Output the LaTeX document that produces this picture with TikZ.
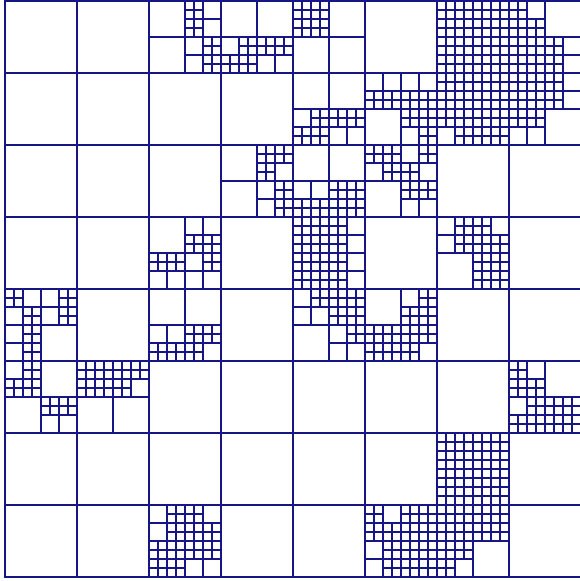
\documentclass[tikz,border=0pt]{standalone}
\definecolor{meshblue}{RGB}{22,22,135}
\begin{document}
\begin{tikzpicture}[x=9pt,y=-9pt,
  mesh/.style={draw=meshblue,line width=2.1pt,line cap=rect}]
\useasboundingbox ({-5/9},{-1/9}) rectangle ({575/9},{580/9});
\clip ({-5/9},{-1/9}) rectangle ({575/9},{580/9});
% coarse 8x8 grid
\foreach \i in {0,8,...,64}{
  \draw[mesh] (\i,0) -- (\i,64);
  \draw[mesh] (0,\i) -- (64,\i);
}
% level 1: split coarse cells
\foreach \x/\y in {16/0,24/0,32/0,48/0,56/0,
  32/8,40/8,48/8,56/8,
  24/16,32/16,40/16,
  16/24,32/24,48/24,
  0/32,16/32,32/32,40/32,
  0/40,8/40,56/40,
  48/48,
  16/56,40/56,48/56}
  \draw[mesh] (\x+4,\y) -- (\x+4,\y+8) (\x,\y+4) -- (\x+8,\y+4);
% level 2: split quadrants
\foreach \x/\y in {20/0,20/4,
  24/4,28/4,
  32/0,
  48/0,52/0,48/4,52/4,
  56/0,56/4,60/4,
  32/12,36/12,
  40/8,44/8,44/12,
  48/8,52/8,48/12,52/12,
  56/8,60/8,56/12,
  28/16,28/20,
  32/20,36/20,
  40/16,44/16,44/20,
  20/24,16/28,20/28,
  32/24,36/24,32/28,36/28,
  48/24,52/24,52/28,
  0/32,4/32,0/36,
  16/36,20/36,
  32/32,36/32,36/36,
  44/32,40/36,44/36,
  0/40,4/44,
  8/40,12/40,
  56/40,56/44,60/44,
  48/48,52/48,48/52,52/52,
  16/56,20/56,16/60,20/60,
  40/56,44/56,40/60,44/60,
  48/56,52/56,48/60}
  \draw[mesh] (\x+2,\y) -- (\x+2,\y+4) (\x,\y+2) -- (\x+4,\y+2);
% level 3: split sub-quadrants
\foreach \x/\y in {20/0,20/2,22/4,22/6,
  26/4,24/6,26/6,28/4,30/4,
  32/0,34/0,32/2,34/2,
  48/0,50/0,52/0,54/0,48/2,50/2,52/2,54/2,48/4,50/4,52/4,54/4,48/6,50/6,52/6,54/6,
  56/0,56/2,58/2,56/4,58/4,56/6,58/6,60/4,60/6,
  34/12,32/14,34/14,36/12,38/12,
  40/10,42/10,44/10,46/10,44/12,46/12,46/14,
  48/8,50/8,48/10,50/10,52/8,54/8,52/10,54/10,48/12,50/12,50/14,52/12,54/12,52/14,54/14,
  56/8,58/8,56/10,58/10,60/8,60/10,56/12,58/12,
  28/16,30/16,28/18,30/20,30/22,
  32/22,34/22,36/20,38/20,36/22,38/22,
  40/16,42/16,42/18,46/16,44/18,44/20,46/20,
  20/26,22/26,16/28,18/28,22/28,
  32/24,34/24,32/26,34/26,36/24,36/26,32/28,34/28,32/30,34/30,36/28,36/30,
  50/24,50/26,52/24,52/26,54/26,52/28,54/28,52/30,54/30,
  0/32,2/34,6/32,6/34,2/36,2/38,
  16/38,18/38,20/36,22/36,20/38,
  34/32,36/32,38/32,36/34,38/34,38/36,
  46/32,44/34,46/34,40/36,42/36,40/38,42/38,44/36,46/36,44/38,
  2/40,0/42,2/42,4/44,6/44,
  8/40,10/40,8/42,10/42,12/40,14/40,12/42,
  56/40,56/42,58/42,58/44,56/46,58/46,60/44,62/44,60/46,62/46,
  48/48,50/48,52/48,54/48,48/50,50/50,52/50,54/50,48/52,50/52,52/52,54/52,48/54,50/54,52/54,54/54,
  18/56,18/58,20/56,20/58,22/58,16/60,18/60,16/62,18/62,20/60,22/60,
  40/56,40/58,42/58,44/56,46/56,44/58,46/58,42/60,42/62,44/60,46/60,44/62,46/62,
  48/56,50/56,48/58,50/58,52/56,54/56,52/58,54/58,48/60,50/60,48/62}
  \draw[mesh] (\x+1,\y) -- (\x+1,\y+2) (\x,\y+1) -- (\x+2,\y+1);
\end{tikzpicture}
\end{document}
